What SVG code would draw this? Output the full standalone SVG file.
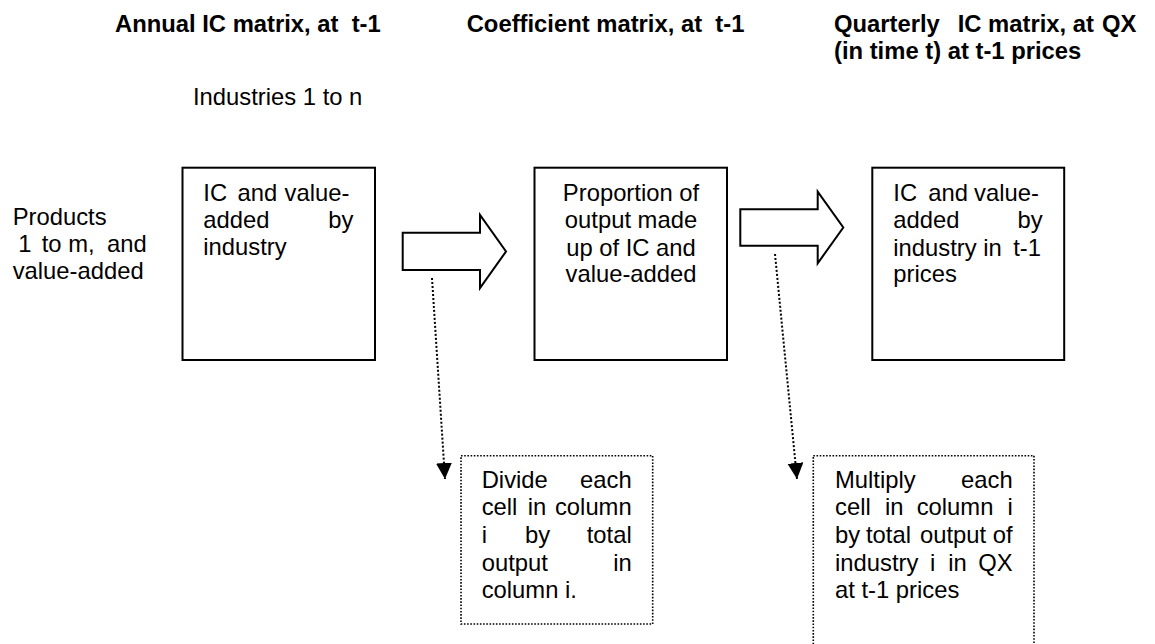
<svg xmlns="http://www.w3.org/2000/svg" width="1155" height="644" viewBox="0 0 1155 644">
<style>
text{font-family:"Liberation Sans",Arial,sans-serif;font-size:23.8px;fill:#000}
.b{font-weight:bold}
.e{text-anchor:end}
.m{text-anchor:middle}
.box{fill:#fff;stroke:#000;stroke-width:2}
.dbox{fill:#fff;stroke:#000;stroke-width:1.6;stroke-dasharray:1.6 1.6}
.blk{fill:#fff;stroke:#000;stroke-width:2;stroke-linejoin:miter}
.dot{fill:none;stroke:#000;stroke-width:2;stroke-dasharray:2 2}
</style>
<defs>
<marker id="ah" markerUnits="userSpaceOnUse" markerWidth="18" markerHeight="18" refX="16" refY="8" orient="auto">
<path d="M0,0 L16,8 L0,16 z" fill="#000"/>
</marker>
</defs>
<rect width="1155" height="644" fill="#fff"/>
<g id="titles">
<text class="b" x="115" y="32" xml:space="preserve">Annual IC matrix, at  t-1</text>
<text class="b" x="466.7" y="32" xml:space="preserve">Coefficient matrix, at  t-1</text>
<text class="b" x="834" y="32">Quarterly</text>
<text class="b" x="957.7" y="32">IC matrix, at</text>
<text class="b" x="1102" y="32">QX</text>
<text class="b" x="834" y="58.5">(in time t) at t-1 prices</text>
</g>
<g id="industries-label"><text x="193" y="105">Industries 1 to n</text></g>
<g id="products-label">
<text x="12.7" y="225">Products</text>
<text x="18.3" y="252">1</text>
<text x="41.7" y="252">to</text>
<text x="68.3" y="252">m,</text>
<text class="e" x="146.7" y="252">and</text>
<text x="12.7" y="279">value-added</text>
</g>
<g id="annual-box">
<rect class="box" x="182.5" y="167.7" width="192.5" height="192.3"/>
<text x="203.3" y="201">IC</text>
<text x="237.5" y="201">and</text>
<text x="284.5" y="201">value-</text>
<text x="203.3" y="228">added</text>
<text class="e" x="353.3" y="228">by</text>
<text x="203.3" y="255">industry</text>
</g>
<g id="coefficient-box">
<rect class="box" x="534.5" y="167.7" width="192.5" height="192.3"/>
<text class="m" x="631" y="201">Proportion of</text>
<text class="m" x="631" y="228">output made</text>
<text class="m" x="631" y="255.5">up of IC and</text>
<text class="m" x="631" y="282">value-added</text>
</g>
<g id="quarterly-box">
<rect class="box" x="872.3" y="167.7" width="191.9" height="192.3"/>
<text x="893.3" y="201">IC</text>
<text x="928.3" y="201">and</text>
<text x="974" y="201">value-</text>
<text x="893.3" y="228">added</text>
<text class="e" x="1042.7" y="228">by</text>
<text x="893.3" y="255.5">industry</text>
<text x="983.3" y="255.5">in</text>
<text class="e" x="1041" y="255.5">t-1</text>
<text x="893.3" y="282">prices</text>
</g>
<g id="divide-box">
<rect class="dbox" x="461" y="455.7" width="191.7" height="168.3"/>
<text x="481.7" y="488.3">Divide</text>
<text class="e" x="631.7" y="488.3">each</text>
<text x="481.7" y="515">cell</text>
<text x="527.7" y="515">in</text>
<text class="e" x="631.7" y="515">column</text>
<text x="481.7" y="543">i</text>
<text x="525" y="543">by</text>
<text class="e" x="631.7" y="543">total</text>
<text x="481.7" y="570.7">output</text>
<text class="e" x="631.7" y="570.7">in</text>
<text x="481.7" y="598.3">column i.</text>
</g>
<g id="multiply-box">
<rect class="dbox" x="813.3" y="455.7" width="220.7" height="192"/>
<text x="835" y="488.3">Multiply</text>
<text class="e" x="1012.7" y="488.3">each</text>
<text x="835" y="515">cell</text>
<text x="885" y="515">in</text>
<text x="916.7" y="515">column</text>
<text class="e" x="1012.7" y="515">i</text>
<text x="835" y="543">by</text>
<text x="866" y="543">total</text>
<text x="920" y="543">output</text>
<text class="e" x="1012.7" y="543">of</text>
<text x="835" y="570.7">industry</text>
<text x="930" y="570.7">i</text>
<text x="948.3" y="570.7">in</text>
<text class="e" x="1012.7" y="570.7">QX</text>
<text x="835" y="598.3">at t-1 prices</text>
</g>
<g id="connectors">
<polygon class="blk" points="402.7,232.7 480,232.7 480,215 506,251.5 480,288 480,270 402.7,270"/>
<polygon class="blk" points="740.3,209.3 817.7,209.3 817.7,191.7 843.3,227.5 817.7,263.3 817.7,245.7 740.3,245.7"/>
<line class="dot" x1="432" y1="278" x2="445" y2="479" marker-end="url(#ah)"/>
<line class="dot" x1="775" y1="254" x2="797" y2="479" marker-end="url(#ah)"/>
</g>
</svg>
